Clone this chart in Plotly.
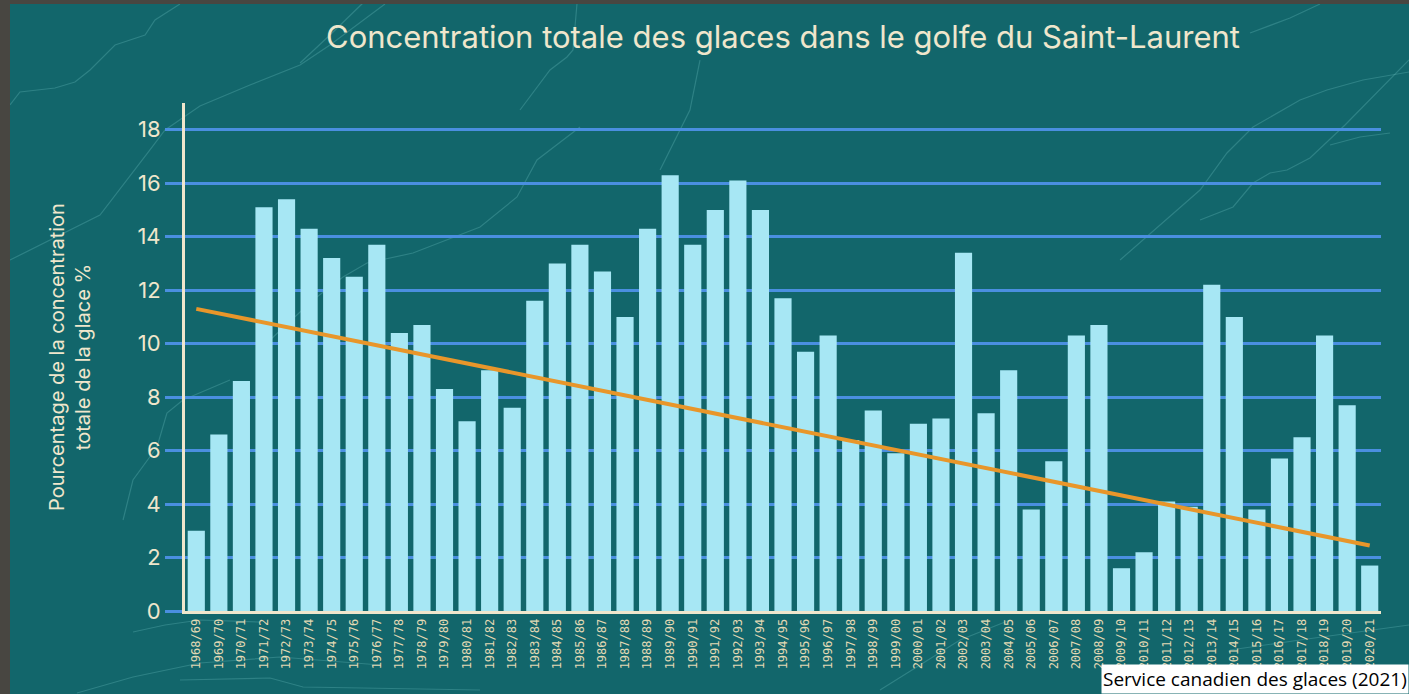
import plotly.graph_objects as go

# Hivers 1968/69 à 2020/21
saisons = [
    "1968/69", "1969/70", "1970/71", "1971/72", "1972/73", "1973/74", "1974/75",
    "1975/76", "1976/77", "1977/78", "1978/79", "1979/80", "1980/81", "1981/82",
    "1982/83", "1983/84", "1984/85", "1985/86", "1986/87", "1987/88", "1988/89",
    "1989/90", "1990/91", "1991/92", "1992/93", "1993/94", "1994/95", "1995/96",
    "1996/97", "1997/98", "1998/99", "1999/00", "2000/01", "2001/02", "2002/03",
    "2003/04", "2004/05", "2005/06", "2006/07", "2007/08", "2008/09", "2009/10",
    "2010/11", "2011/12", "2012/13", "2013/14", "2014/15", "2015/16", "2016/17",
    "2017/18", "2018/19", "2019/20", "2020/21",
]

# Concentration totale des glaces (%)
concentration = [
    3.0, 6.6, 8.6, 15.1, 15.4, 14.3, 13.2,
    12.5, 13.7, 10.4, 10.7, 8.3, 7.1, 9.0,
    7.6, 11.6, 13.0, 13.7, 12.7, 11.0, 14.3,
    16.3, 13.7, 15.0, 16.1, 15.0, 11.7, 9.7,
    10.3, 6.4, 7.5, 5.9, 7.0, 7.2, 13.4,
    7.4, 9.0, 3.8, 5.6, 10.3, 10.7, 1.6,
    2.2, 4.1, 3.9, 12.2, 11.0, 3.8, 5.7,
    6.5, 10.3, 7.7, 1.7,
]

# Tendance linéaire : valeurs au début et à la fin de la période
tendance_saisons = [saisons[0], saisons[-1]]
tendance_valeurs = [11.3, 2.45]

y_ticks = [0, 2, 4, 6, 8, 10, 12, 14, 16, 18]

FOND = "#12666b"
CREME = "#efe6cc"
BLEU = "#4a8fe0"
CYAN = "#a7e7f4"
ORANGE = "#e8962a"

W, H = 1409, 694
L, R, T, B = 185, 28, 103, 83
PW, PH = W - L - R, H - T - B


def to_paper(points):
    """Pixel coordinates of the page -> paper coordinates of the plot area."""
    return [((x - L) / PW, (H - B - y) / PH) for x, y in points]


def path_from(points):
    pts = to_paper(points)
    d = "M {:.4f},{:.4f}".format(*pts[0])
    for x, y in pts[1:]:
        d += " L {:.4f},{:.4f}".format(x, y)
    return d


# Courbes bathymétriques décoratives de l'arrière-plan
contours = [
    [(10, 105), (20, 92), (55, 88), (75, 82), (90, 70), (115, 45), (145, 35), (155, 20), (180, 4)],
    [(10, 260), (100, 215), (150, 150), (165, 130), (200, 106), (250, 85), (300, 65), (330, 45), (385, 4)],
    [(300, 63), (330, 35), (363, 3)],
    [(577, 3), (573, 50), (567, 57), (550, 70), (520, 110)],
    [(123, 520), (133, 480), (157, 447), (167, 413), (183, 400), (230, 380)],
    [(580, 127), (537, 160), (517, 197), (480, 227), (413, 253), (367, 263), (343, 277), (313, 300), (270, 340)],
    [(1250, 33), (1290, 18), (1320, 4)],
    [(1200, 220), (1233, 207), (1253, 183), (1270, 173), (1287, 170), (1310, 158), (1345, 125), (1409, 60)],
    [(1120, 260), (1200, 190), (1227, 153), (1253, 127), (1300, 100), (1327, 90), (1363, 80), (1409, 72)],
    [(1330, 145), (1360, 137), (1390, 133)],
    [(133, 632), (165, 625), (200, 620), (260, 622)],
    [(77, 693), (133, 677), (200, 663), (280, 657), (380, 665)],
    [(180, 680), (270, 678), (303, 687), (480, 690)],
    [(700, 60), (690, 110), (660, 170)],
    [(880, 690), (960, 640), (1010, 620)],
    [(1230, 650), (1300, 640), (1409, 625)],
]

shapes = [
    dict(type="path", xref="paper", yref="paper", path=path_from(c),
         line=dict(color="rgba(120,200,200,0.28)", width=1.2), layer="below")
    for c in contours
]

fig = go.Figure()

fig.add_trace(go.Bar(
    x=saisons, y=concentration,
    marker=dict(color=CYAN, line=dict(width=0)),
    hoverinfo="x+y",
))

fig.add_trace(go.Scatter(
    x=tendance_saisons, y=tendance_valeurs, mode="lines",
    line=dict(color=ORANGE, width=4),
    hoverinfo="skip",
))

fig.update_layout(
    width=W, height=H,
    margin=dict(l=L, r=R, t=T, b=B),
    paper_bgcolor=FOND, plot_bgcolor=FOND,
    showlegend=False,
    bargap=0.24,
    shapes=shapes + [
        # bande grise du cadre (gauche et haut)
        dict(type="rect", xref="paper", yref="paper",
             x0=-L / PW - 0.01, x1=(10 - L) / PW, y0=-B / PH - 0.01, y1=(H - B) / PH + 0.01,
             fillcolor="#484641", line=dict(width=0), layer="above"),
        dict(type="rect", xref="paper", yref="paper",
             x0=-L / PW - 0.01, x1=1 + R / PW + 0.01, y0=(H - B - 4) / PH, y1=(H - B) / PH + 0.01,
             fillcolor="#484641", line=dict(width=0), layer="above"),
    ],
    title=dict(
        text="Concentration totale des glaces dans le golfe du Saint-Laurent",
        font=dict(family="Inter", size=31, color=CREME),
        xref="paper", x=0.5, xanchor="center",
        yref="container", y=1 - 37 / H, yanchor="middle",
    ),
    font=dict(family="Inter", color=CREME),
    xaxis=dict(
        type="category",
        showgrid=False,
        showline=True, linecolor=CREME, linewidth=3,
        tickangle=-90,
        tickfont=dict(family="DejaVu Sans Mono", size=12, color="#e2d9b4"),
        ticks="",
        range=[-0.5, len(saisons) - 0.5],
    ),
    yaxis=dict(
        range=[0, 19],
        tickvals=y_ticks,
        showgrid=True, gridcolor=BLEU, gridwidth=3,
        zeroline=False,
        showline=True, linecolor=CREME, linewidth=3,
        ticks="outside", ticklen=17, tickwidth=3, tickcolor=BLEU,
        tickfont=dict(family="Inter", size=22, color=CREME),
    ),
    annotations=[
        dict(
            text="Pourcentage de la concentration<br>totale de la glace %",
            xref="paper", yref="paper",
            x=(70 - L) / PW, y=(H - B - 357) / PH,
            xanchor="center", yanchor="middle",
            textangle=-90, showarrow=False,
            font=dict(family="Inter", size=20, color=CREME),
        ),
        dict(
            text="Service canadien des glaces (2021)",
            xref="paper", yref="paper",
            x=1 + R / PW, y=-B / PH,
            xanchor="right", yanchor="bottom",
            showarrow=False, bgcolor="white", borderpad=1,
            font=dict(family="Open Sans", size=19, color="black"),
        ),
    ],
)

fig.write_html("out.html")
